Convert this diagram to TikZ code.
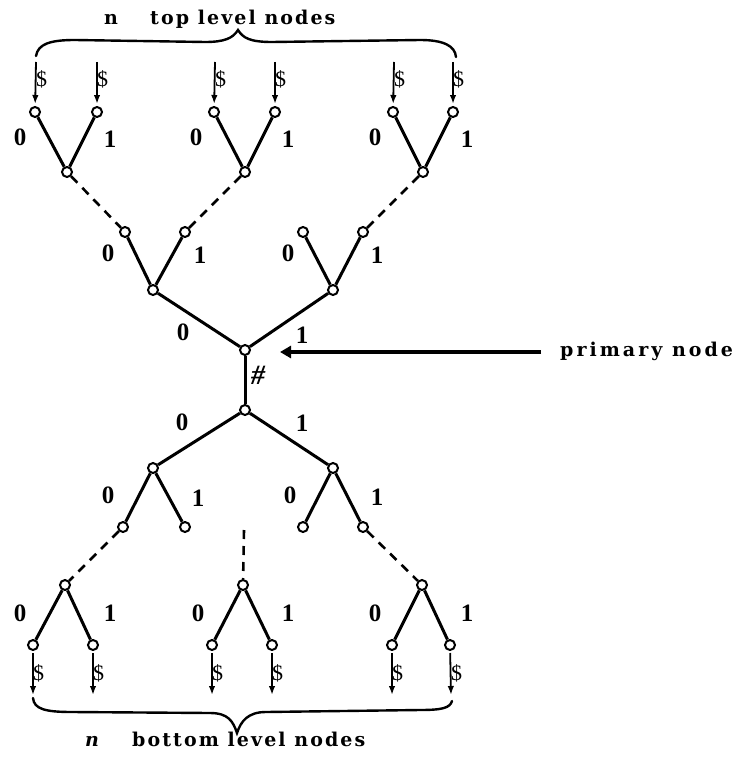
\documentclass[tikz,border=0pt]{standalone}
\usepackage{fontspec}
\setmainfont{Liberation Serif}
\newfontfamily\capfont[LetterSpace=11]{DejaVu Serif}
\newfontfamily\ptrfont[LetterSpace=16]{DejaVu Serif}
\usetikzlibrary{arrows.meta}
\begin{document}
\begin{tikzpicture}[x=1pt,y=-1pt,
  vtx/.style={circle,draw,fill=white,line width=2pt,inner sep=0pt,minimum size=10pt},
  edge/.style={line width=3pt},
  dedge/.style={line width=2.6pt,dash pattern=on 9pt off 7pt},
  feed/.style={line width=1.8pt,-{Latex[length=9pt,width=6.5pt]}},
  bit/.style={font=\fontsize{25}{25}\selectfont\bfseries,inner sep=0pt},
  dollar/.style={font=\fontsize{22}{22}\selectfont,inner sep=0pt,anchor=west},
  caption/.style={font=\fontsize{19}{19}\selectfont\capfont\bfseries,inner sep=0pt,anchor=base west},
  brace/.style={line width=2.4pt,line cap=round},
  pointer/.style={line width=3.2pt,-{Triangle[length=11pt,width=12pt]}}
]
\useasboundingbox (0,0) rectangle (742,760);

% ---------- upper tree (n top level nodes feeding into the primary node)
\node[vtx] (t1) at (35,112) {};
\node[vtx] (t2) at (97,112) {};
\node[vtx] (t3) at (214,112) {};
\node[vtx] (t4) at (275,112) {};
\node[vtx] (t5) at (393,112) {};
\node[vtx] (t6) at (453,112) {};
\node[vtx] (a1) at (67,172) {};
\node[vtx] (a2) at (245,172) {};
\node[vtx] (a3) at (423,172) {};
\node[vtx] (b1) at (125,232) {};
\node[vtx] (b2) at (185,232) {};
\node[vtx] (b3) at (303,232) {};
\node[vtx] (b4) at (363,232) {};
\node[vtx] (c1) at (153,290) {};
\node[vtx] (c2) at (333,290) {};
\node[vtx] (p)  at (245,350) {};

% ---------- lower tree
\node[vtx] (q)  at (245,410) {};
\node[vtx] (d1) at (153,468) {};
\node[vtx] (d2) at (333,468) {};
\node[vtx] (e1) at (123,527) {};
\node[vtx] (e2) at (185,527) {};
\node[vtx] (e3) at (303,527) {};
\node[vtx] (e4) at (363,527) {};
\node[vtx] (f1) at (65,585) {};
\node[vtx] (f2) at (243,585) {};
\node[vtx] (f3) at (422,585) {};
\node[vtx] (g1) at (33,645) {};
\node[vtx] (g2) at (93,645) {};
\node[vtx] (g3) at (212,645) {};
\node[vtx] (g4) at (272,645) {};
\node[vtx] (g5) at (392,645) {};
\node[vtx] (g6) at (450,645) {};
\coordinate (gap) at (244,530);

% edges
\foreach \u/\v in {t1/a1,t2/a1,t3/a2,t4/a2,t5/a3,t6/a3,
                   b1/c1,b2/c1,b3/c2,b4/c2,c1/p,c2/p,p/q,
                   q/d1,q/d2,d1/e1,d1/e2,d2/e3,d2/e4,
                   f1/g1,f1/g2,f2/g3,f2/g4,f3/g5,f3/g6}
  \draw[edge] (\u) -- (\v);
\foreach \u/\v in {a1/b1,a2/b2,a3/b4,e1/f1,e4/f3}
  \draw[dedge] (\u) -- (\v);
\draw[dedge] (gap) -- (f2);

% input arrows at the top level
\foreach \n/\x in {t1/36,t2/97,t3/215,t4/275,t5/394,t6/453}{
  \coordinate (s\n) at (\x,62);
  \draw[feed,shorten >=2pt] (s\n) -- (\n);
  \node[dollar] (d\n) at (\x,79) {\$};
}
% output arrows at the bottom level
\foreach \n/\x in {g1/33,g2/93,g3/212,g4/272,g5/392,g6/451}{
  \coordinate (o\n) at (\x,695);
  \draw[feed,shorten <=2pt] (\n) -- (o\n);
  \node[dollar] (d\n) at (\x,673) {\$};
}

% branch labels
\foreach \lab/\x/\y/\t in {u1/20/137/0,u2/110/139/1,u3/196/137/0,u4/288/139/1,u5/375/137/0,u6/467/139/1,
                          v1/108/253/0,v2/200/255/1,v3/288/253/0,v4/377/255/1,
                          w1/183/332/0,w2/302/335/1,
                          x1/182/422/0,x2/302/423/1,
                          y1/108/495/0,y2/198/498/1,y3/290/495/0,y4/377/497/1,
                          z1/20/613/0,z2/110/613/1,z3/198/613/0,z4/288/613/1,z5/375/613/0,z6/467/613/1}
  \node[bit] (\lab) at (\x,\y) {\t};
\node[font=\fontsize{28}{28}\selectfont\itshape\bfseries,inner sep=0pt] (hash) at (258,375) {\#};

% primary node pointer
\node[caption,font=\fontsize{19}{19}\selectfont\ptrfont\bfseries] (pn) at (560,356) {primary node};
\coordinate (ptip) at (280,352);
\coordinate (pstart) at (541,352);
\draw[pointer] (pstart) -- (ptip);

% top brace and caption
\draw[brace] (36,56) .. controls (38,44) and (50,40) .. (75,40)
   -- (205,42) .. controls (225,42) and (233,38) .. (238,30)
   .. controls (243,38) and (250,42) .. (272,42)
   -- (420,40) .. controls (444,40) and (455,46) .. (456,57);
\node[caption] (ntop) at (104,25) {n};
\node[caption] (ttop) at (150,25) {top level nodes};

% bottom brace and caption
\draw[brace] (33,698) .. controls (34,709) and (45,712) .. (72,712)
   -- (210,713) .. controls (228,713) and (233,721) .. (237,733)
   .. controls (241,721) and (248,712) .. (266,712)
   -- (420,710) .. controls (442,710) and (450,708) .. (452,701);
\node[caption,font=\fontsize{19}{19}\selectfont\capfont\bfseries\itshape] (nbot) at (85,746) {n};
\node[caption] (tbot) at (132,746) {bottom level nodes};
\end{tikzpicture}
\end{document}
